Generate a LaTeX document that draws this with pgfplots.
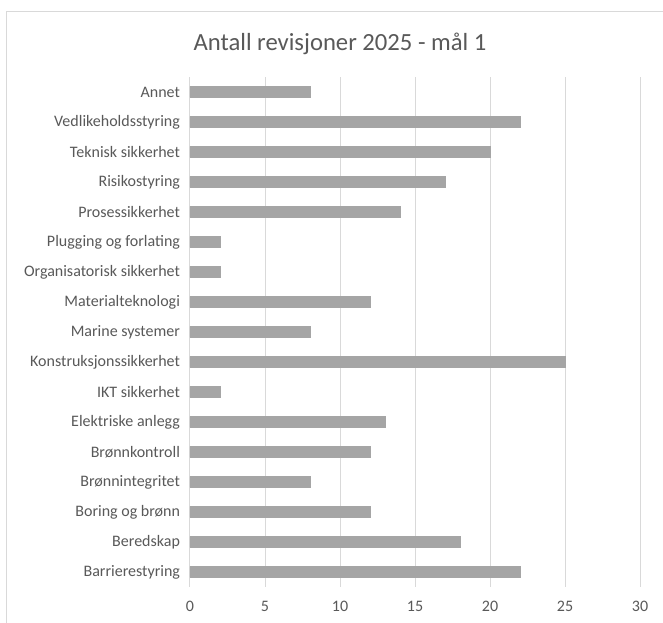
\documentclass[border=0pt]{standalone}
\usepackage{fontspec}
\setmainfont{Carlito}
\usepackage{pgfplots}
\pgfplotsset{compat=1.18}
\definecolor{txt}{HTML}{595959}
\definecolor{bar}{HTML}{A5A5A5}
\definecolor{grd}{HTML}{D9D9D9}
\begin{document}
\begin{tikzpicture}[x=1pt,y=1pt]
\useasboundingbox (-142.5,-27) rectangle (354.75,440.25);
\fill[white] (-142.5,-27) rectangle (354.75,440.25);
\draw[grd, line width=0.75pt] (-137.25,-60) -- (-137.25,431.25) -- (400,431.25);
\begin{axis}[
  at={(0,0)}, anchor=south west,
  scale only axis, width=337.5pt, height=382.5pt,
  xbar, bar width=8.25pt,
  xmin=0, xmax=30, ymin=-0.5, ymax=16.5,
  xtick={0,5,...,30},
  ytick={0,...,16},
  yticklabels={Barrierestyring,Beredskap,Boring og brønn,Brønnintegritet,Brønnkontroll,Elektriske anlegg,IKT sikkerhet,Konstruksjonssikkerhet,Marine systemer,Materialteknologi,Organisatorisk sikkerhet,Plugging og forlating,Prosessikkerhet,Risikostyring,Teknisk sikkerhet,Vedlikeholdsstyring,Annet},
  axis line style={draw=none},
  major tick length=0pt,
  xmajorgrids, grid style={grd, line width=0.75pt},
  ticklabel style={font=\fontsize{12}{14}\selectfont, text=txt},
  /pgf/number format/assume math mode=true,
  xticklabel style={yshift=-7pt},
  yticklabel style={xshift=-4pt},
  clip=false,
]
\addplot[fill=bar, draw=bar, line width=0.4pt] coordinates {
(22,0) (18,1) (12,2) (8,3) (12,4) (13,5) (2,6) (25,7) (8,8) (12,9) (2,10) (2,11) (14,12) (17,13) (20,14) (22,15) (8,16)
};
\end{axis}
\node[text=txt, font=\fontsize{18.5}{21}\selectfont] at (112.5,407.25) {Antall revisjoner 2025 - mål 1};
\end{tikzpicture}
\end{document}
